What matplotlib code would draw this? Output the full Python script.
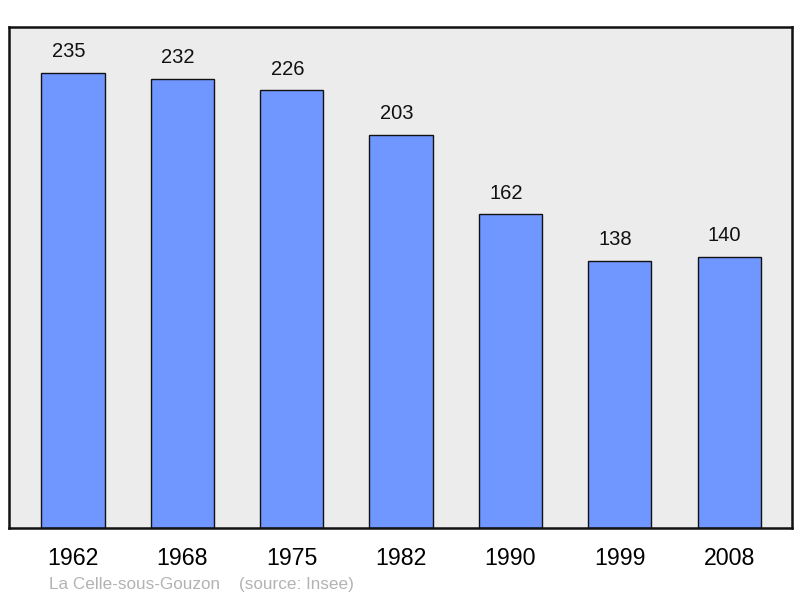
import matplotlib.pyplot as plt

years = ["1962", "1968", "1975", "1982", "1990", "1999", "2008"]
population = [235, 232, 226, 203, 162, 138, 140]
commune = "La Celle-sous-Gouzon"
source = "(source: Insee)"

plt.rcParams['font.family'] = ['Liberation Sans', 'DejaVu Sans']

fig = plt.figure(figsize=(8, 5.98), dpi=100)
ax = fig.add_axes([9 / 800, 70 / 598, 783 / 800, 501 / 598])
ax.set_facecolor('#ececec')

x = range(len(years))
ax.bar(x, population, width=0.578, color='#7096ff', edgecolor='#111111', linewidth=1.0, zorder=2)
for xi, v in zip(x, population):
    ax.text(xi - 0.04, v + 6, str(v), ha='center', va='bottom', fontsize=14.5, color='#111111')

ax.set_xlim(-0.585, 6.575)
ax.set_ylim(0, 258.8)
ax.set_yticks([])
ax.set_xticks(list(x))
ax.set_xticklabels(years, fontsize=16.7)
ax.tick_params(axis='x', length=0, pad=14)
for s in ax.spines.values():
    s.set_linewidth(1.8)
    s.set_color('#111111')

fig.text(49 / 800, 1 - 584 / 598, commune + "    " + source, fontsize=12.3,
         color='#b3b3b3', ha='left', va='center')

fig.savefig('out.png', dpi=100)
